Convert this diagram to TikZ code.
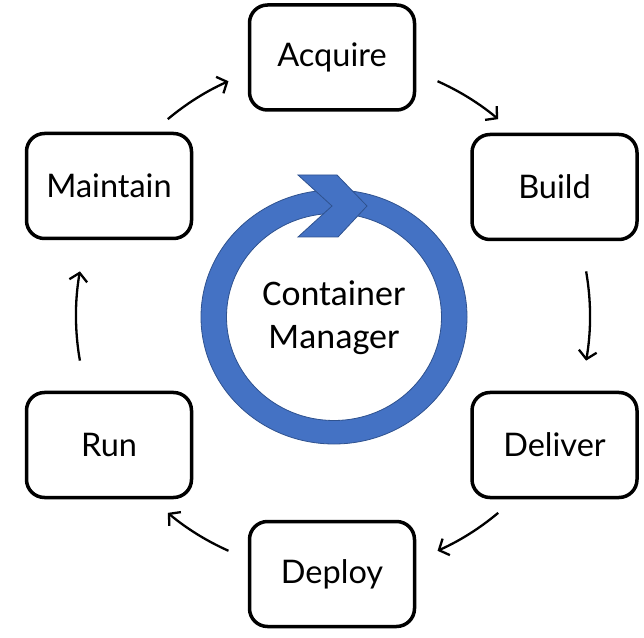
\documentclass[tikz,border=0pt]{standalone}
\usepackage{fontspec}
\setmainfont{Lato}
\newfontfamily\calfont{Carlito}
\usetikzlibrary{arrows.meta}
\definecolor{ringblue}{HTML}{4472C4}
\definecolor{ringedge}{HTML}{2F528F}
\begin{document}
\begin{tikzpicture}[x=1pt,y=1pt,
  stepbox/.style={draw=black,line width=3.5pt,rounded corners=18pt,fill=white,
    minimum width=165pt,minimum height=105pt,inner sep=0pt,font=\fontsize{32.5}{38}\selectfont},
  conn/.style={line width=2.3pt,-{Straight Barb[length=8pt,width=18pt,line width=2.3pt]}}]
\useasboundingbox (0,0) rectangle (644,637);
\coordinate (c) at (333,321);
% boxes
\node[stepbox] (acq) at (332,579.5) {Acquire};
\node[stepbox] (bld) at (554.5,450) {Build};
\node[stepbox] (del) at (554.5,192) {Deliver};
\node[stepbox] (dep) at (332,63) {Deploy};
\node[stepbox] (run) at (109,192) {Run};
\node[stepbox] (mnt) at (109,451) {Maintain};
% ring
\fill[ringblue,draw=ringedge,line width=0.8pt,even odd rule]
  (334,320) ellipse [x radius=133pt,y radius=127pt]
  (334,320) ellipse [x radius=107.5pt,y radius=103.5pt];
% chevron head
\fill[ringblue,draw=ringedge,line width=0.8pt]
  (298,462) -- (337,462) -- (367,431) -- (338,400) -- (298,400) -- (332,431) -- cycle;
\node[font=\calfont\fontsize{36}{43}\selectfont,align=center] (cm) at (334,319) {Container\\Manager};
% connectors
\coordinate (s1) at ([shift={(c)}]130:257pt);
\coordinate (s2) at ([shift={(c)}]66:257pt);
\coordinate (s3) at ([shift={(c)}]10:257pt);
\coordinate (s4) at ([shift={(c)}]-50:257pt);
\coordinate (s5) at ([shift={(c)}]-114:257pt);
\coordinate (s6) at ([shift={(c)}]190:257pt);
\draw[conn] (s1) arc[start angle=130,end angle=114,radius=257pt];
\draw[conn] (s2) arc[start angle=66,end angle=50,radius=257pt];
\draw[conn] (s3) arc[start angle=10,end angle=-10,radius=257pt];
\draw[conn] (s4) arc[start angle=-50,end angle=-66,radius=257pt];
\draw[conn] (s5) arc[start angle=-114,end angle=-130,radius=257pt];
\draw[conn] (s6) arc[start angle=190,end angle=170,radius=257pt];
\end{tikzpicture}
\end{document}
